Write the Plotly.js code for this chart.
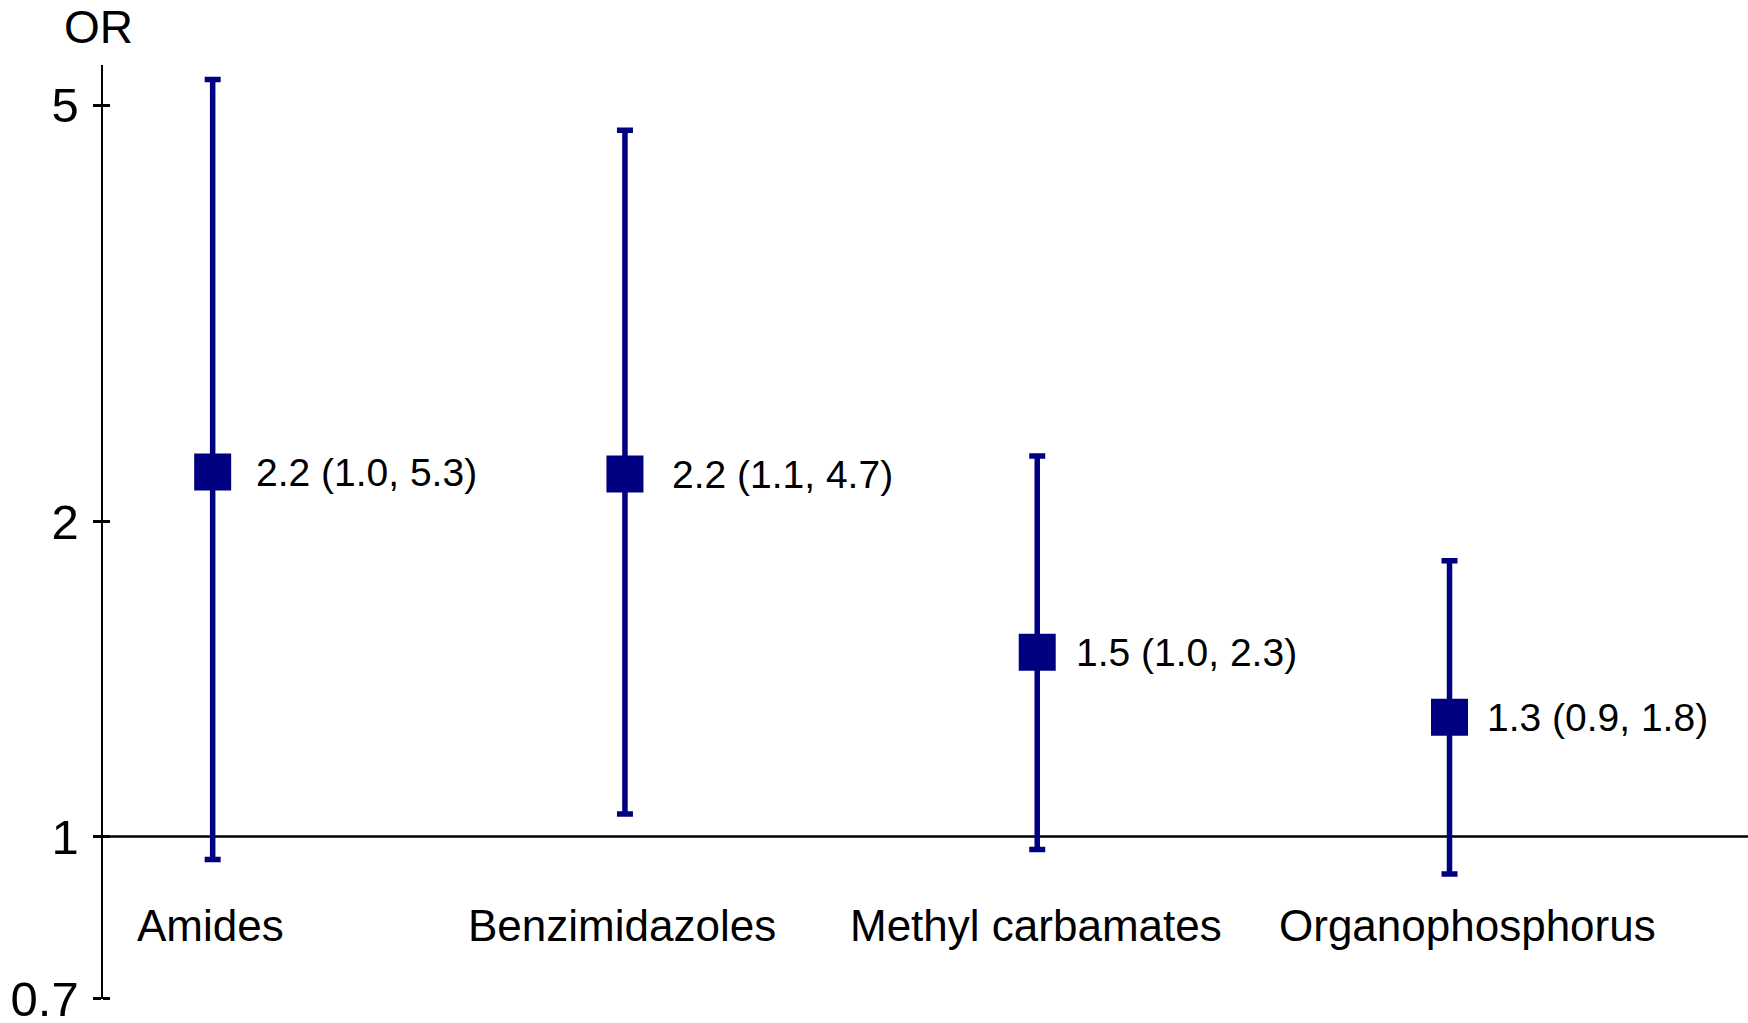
<!DOCTYPE html>
<html>
<head>
<meta charset="utf-8">
<script src="https://cdn.plot.ly/plotly-3.0.1.min.js"></script>
<style>
  html, body { margin: 0; padding: 0; background: #fff; }
  #chart { width: 1748px; height: 1023px; }
</style>
</head>
<body>
<div id="chart"></div>
<script>
// Odds ratios with 95% confidence intervals by pesticide class
const categories = ["Amides", "Benzimidazoles", "Methyl carbamates", "Organophosphorus"];
const oddsRatio  = [2.23, 2.22, 1.50, 1.30];
const ciLower    = [0.951, 1.051, 0.972, 0.921];
const ciUpper    = [5.29, 4.73, 2.31, 1.835];
const yTickVals  = [0.7, 1, 2, 5];
const yTickText  = ["0.7", "1", "2", "5"];

const NAVY = "#000080";
const FONT = "Liberation Sans, Arial, sans-serif";

const idx = categories.map((_, i) => i);

const trace = {
  type: "scatter",
  mode: "markers",
  x: idx,
  y: oddsRatio,
  marker: { symbol: "square", size: 37, color: NAVY, line: { width: 0 } },
  error_y: {
    type: "data",
    symmetric: false,
    array: ciUpper.map((u, i) => u - oddsRatio[i]),
    arrayminus: ciLower.map((l, i) => oddsRatio[i] - l),
    color: NAVY,
    thickness: 5.5,
    width: 8
  },
  hoverinfo: "skip",
  showlegend: false,
  cliponaxis: false
};

const yRange = [Math.log10(0.6995), Math.log10(5.46)];

const annotations = [];

// value labels to the right of each marker
const labelGap = [41, 45, 37, 35];
idx.forEach(i => {
  annotations.push({
    x: i, y: Math.log10(oddsRatio[i]), xref: "x", yref: "y",
    text: oddsRatio[i].toFixed(1) + " (" + ciLower[i].toFixed(1) + ", " + ciUpper[i].toFixed(1) + ")",
    showarrow: false, xanchor: "left", yanchor: "middle", xshift: labelGap[i],
    font: { family: FONT, size: 39, color: "#000" }
  });
});

// category names beneath the reference line
const catShift = [-2, -3, -1, 18];
idx.forEach(i => {
  annotations.push({
    x: i, y: Math.log10(0.822), xref: "x", yref: "y",
    text: categories[i], showarrow: false,
    xanchor: "center", yanchor: "middle", xshift: catShift[i],
    font: { family: FONT, size: 44, color: "#000" }
  });
});

// axis caption
annotations.push({
  x: 0, y: 1, xref: "paper", yref: "paper",
  text: "OR", showarrow: false, xanchor: "center", yanchor: "middle",
  xshift: -5, yshift: 38,
  font: { family: FONT, size: 46, color: "#000" }
});

const layout = {
  width: 1748, height: 1023,
  margin: { l: 103, r: 0, t: 65, b: 24, pad: 0 },
  paper_bgcolor: "#fff", plot_bgcolor: "#fff",
  font: { family: FONT, color: "#000" },
  showlegend: false,
  xaxis: {
    type: "linear", range: [-0.266, 3.724],
    showline: false, showgrid: false, zeroline: false,
    showticklabels: false, ticks: ""
  },
  yaxis: {
    type: "log", range: yRange,
    tickvals: yTickVals, ticktext: yTickText,
    ticks: "outside", ticklen: 8, tickwidth: 3, tickcolor: "#000",
    ticklabelstandoff: 4, ticklabeloverflow: "allow",
    // inside half of each tick, so the ticks cross the axis line
    minor: { tickvals: yTickVals, ticks: "inside", ticklen: 7, tickwidth: 3, tickcolor: "#000", showgrid: false },
    showline: true, linewidth: 2.5, linecolor: "#000",
    showgrid: false, zeroline: false,
    tickfont: { family: FONT, size: 49, color: "#000" }
  },
  shapes: [{
    type: "line", xref: "paper", x0: 0, x1: 1, yref: "y", y0: 1, y1: 1,
    line: { color: "#000", width: 2.5 }, layer: "below"
  }],
  annotations: annotations
};

Plotly.newPlot("chart", [trace], layout, { displayModeBar: false, staticPlot: true });
</script>
</body>
</html>
